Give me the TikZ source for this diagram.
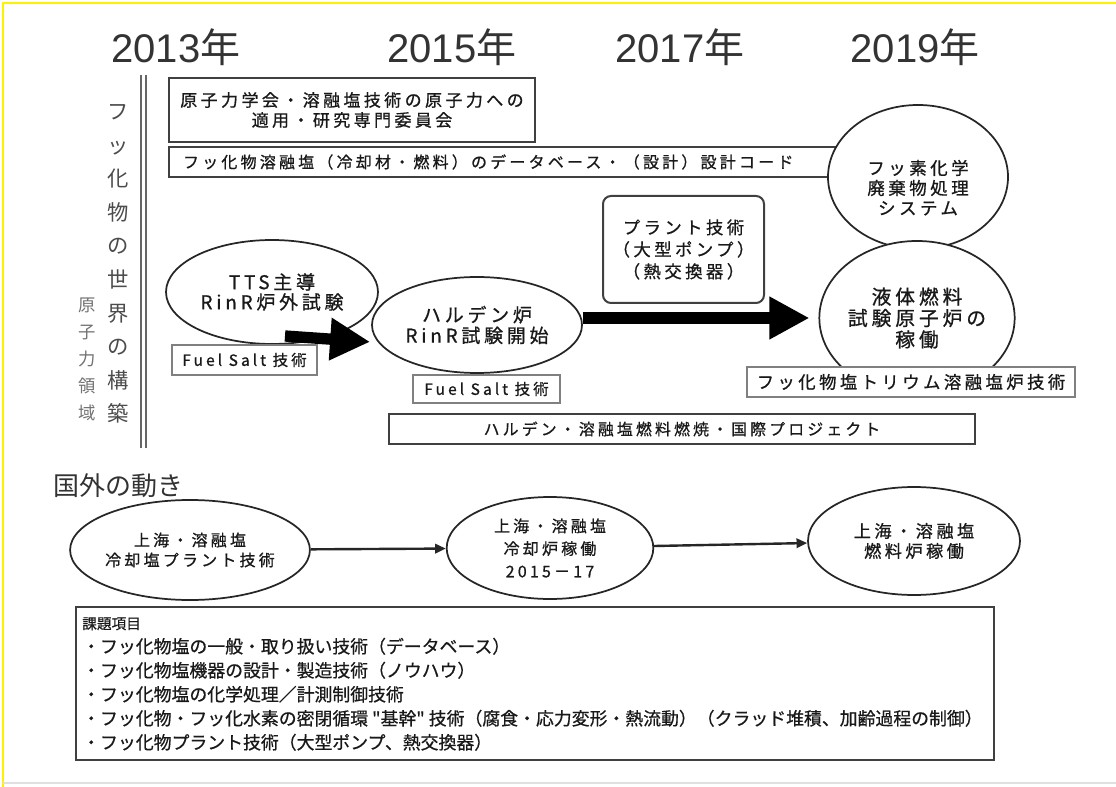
\documentclass[tikz,border=0pt]{standalone}
\usepackage{fontspec}
\setmainfont{Noto Sans CJK JP}
\newfontfamily\jsp[LetterSpace=20,FakeBold=0.8]{Noto Sans CJK JP}
\newfontfamily\jbd[FakeBold=0.6]{Noto Sans CJK JP}
\newfontfamily\yrfont{Liberation Sans}
\usetikzlibrary{shapes.geometric,arrows.meta}
\newcommand{\fs}[2]{\fontsize{#1}{#2}\selectfont}
\newcommand{\yr}[1]{{\yrfont #1}年}
\begin{document}
\begin{tikzpicture}[x=0.75pt,y=-0.75pt,
  every node/.style={text=black!90},
  box/.style={draw=black!75, line width=1.5pt, fill=white, inner sep=0pt, align=center},
  gbox/.style={draw=black!50, line width=1.1pt, fill=white, inner sep=0pt, align=center},
  ell/.style={ellipse, draw=black!85, line width=1.3pt, fill=white, inner sep=0pt, align=center},
  bigarrow/.style={draw=black, line width=8.5pt, -{Triangle[length=30pt,width=30pt]}},
  thinarrow/.style={draw=black!85, line width=1.8pt, -{Triangle[length=8pt,width=7pt]}},
  year/.style={font=\fs{30pt}{30pt}, text=black!80},
  vtxt/.style={align=center, inner sep=0pt, text=black!70},
]
\useasboundingbox (0,0) rectangle (1116,787);
\fill[white] (0,0) rectangle (1116,787);
% frame
\draw[yellow, line width=1.5pt] (3,787) -- (3,3) -- (1116,3);
\draw[black!12, line width=1pt] (3,783) -- (1116,783);

% years
\node[year] (y13) at (176,47) {\yr{2013}};
\node[year] (y15) at (452,47) {\yr{2015}};
\node[year] (y17) at (680,47) {\yr{2017}};
\node[year] (y19) at (915,47) {\yr{2019}};

% left vertical labels
\draw[black!60, line width=1.3pt] (141,75) -- (141,448);
\draw[black!60, line width=1.3pt] (146,75) -- (146,448);
\node[vtxt, font=\fs{16pt}{25.2pt}] (vt1) at (118,264) {フ\\ッ\\化\\物\\の\\世\\界\\の\\構\\築};
\node[vtxt, font=\fs{13pt}{20.25pt}, text=black!55] (vt2) at (87,359) {原\\子\\力\\領\\域};

% top boxes
\node[box, minimum width=274.5pt, minimum height=48pt, font=\jsp\fs{12.75pt}{15pt}] (b1) at (352,110)
  {原子力学会・溶融塩技術の原子力への\\適用・研究専門委員会};
\node[box, minimum width=503.25pt, minimum height=22.5pt, text width=482.25pt, inner xsep=10.5pt,
  align=left, font=\jsp\fs{12pt}{14pt}] (b2) at (504.5,162)
  {フッ化物溶融塩（冷却材・燃料）のデータベース・（設計）設計コード};

% right circles
\node[ell, minimum width=135pt, minimum height=108pt,
  label={[font=\jsp\fs{13.1pt}{15pt}, align=center, yshift=-8pt]center:{フッ素化学\\廃棄物処理\\システム}}] (fc) at (918,177) {};
\node[ell, minimum width=135pt, minimum height=115.5pt, font=\jsp\fs{14.8pt}{16pt}] (lc) at (917,318)
  {液体燃料\\試験原子炉の\\稼働};
\node[gbox, minimum width=246pt, minimum height=22.5pt, font=\jsp\fs{13pt}{15pt}] (th) at (911,382)
  {フッ化物塩トリウム溶融塩炉技術};

% middle row
\node[ell, minimum width=159pt, minimum height=78pt, font=\jsp\fs{14.2pt}{15pt}] (tts) at (272,292)
  {TTS主導\\RinR炉外試験};
\node[gbox, minimum width=108.75pt, minimum height=22.5pt, font=\jsp\fs{11.6pt}{14pt}] (fs1) at (244.5,360)
  {Fuel Salt 技術};
\node[ell, minimum width=157.5pt, minimum height=72pt, font=\jsp\fs{14.2pt}{15.5pt}] (hal) at (477,325)
  {ハルデン炉\\RinR試験開始};
\node[gbox, minimum width=110.25pt, minimum height=21pt, font=\jsp\fs{11.6pt}{14pt}] (fs2) at (486.5,389)
  {Fuel Salt 技術};
\node[box, rounded corners=6pt, minimum width=120.75pt, minimum height=80.25pt, font=\jsp\fs{13pt}{16.5pt}] (pl) at (683.5,249.5)
  {プラント技術\\（大型ポンプ）\\（熱交換器）};
\node[box, minimum width=439.5pt, minimum height=22.5pt, font=\jsp\fs{11.9pt}{14pt}] (pj) at (682,429)
  {ハルデン・溶融塩燃料燃焼・国際プロジェクト};

\coordinate (a1s) at (285,336);
\draw[bigarrow, shorten >=6pt] (a1s) -- (hal.190);
\draw[bigarrow, line width=9pt, shorten >=6.75pt] (hal.east |- lc.west) -- (lc.west);

% abroad
\node[font=\fs{19.5pt}{20pt}, text=black!80, inner sep=0pt] (ab) at (118,486) {国外の動き};
\node[ell, minimum width=160.5pt, minimum height=75pt, font=\jsp\fs{12pt}{15pt}] (c1) at (190,550)
  {上海・溶融塩\\冷却塩プラント技術};
\node[ell, minimum width=155pt, minimum height=76.5pt, font=\jsp\fs{12pt}{17pt}] (c2) at (550,548)
  {上海・溶融塩\\冷却炉稼働\\2015－17};
\node[ell, minimum width=159pt, minimum height=81pt, font=\jsp\fs{12.9pt}{15pt}] (c3) at (914,541)
  {上海・溶融塩\\燃料炉稼働};
\draw[thinarrow] (c1) -- (c2);
\draw[thinarrow] (c2) -- (c3);

% bottom box
\node[box, line width=1.3pt, minimum width=688.5pt, minimum height=114.75pt] (kb) at (535,683.5) {};
\node[anchor=north west, inner sep=0pt, align=left, font=\jbd\fs{13.4pt}{18pt}] (kt) at (82,617)
  {{\fs{11pt}{18pt}課題項目}\\
  ・フッ化物塩の一般・取り扱い技術（データベース）\\
  ・フッ化物塩機器の設計・製造技術（ノウハウ）\\
  ・フッ化物塩の化学処理／計測制御技術\\
  ・フッ化物・フッ化水素の密閉循環 "基幹" 技術（腐食・応力変形・熱流動）（クラッド堆積、加齢過程の制御）\\
  ・フッ化物プラント技術（大型ポンプ、熱交換器）};
\end{tikzpicture}
\end{document}
